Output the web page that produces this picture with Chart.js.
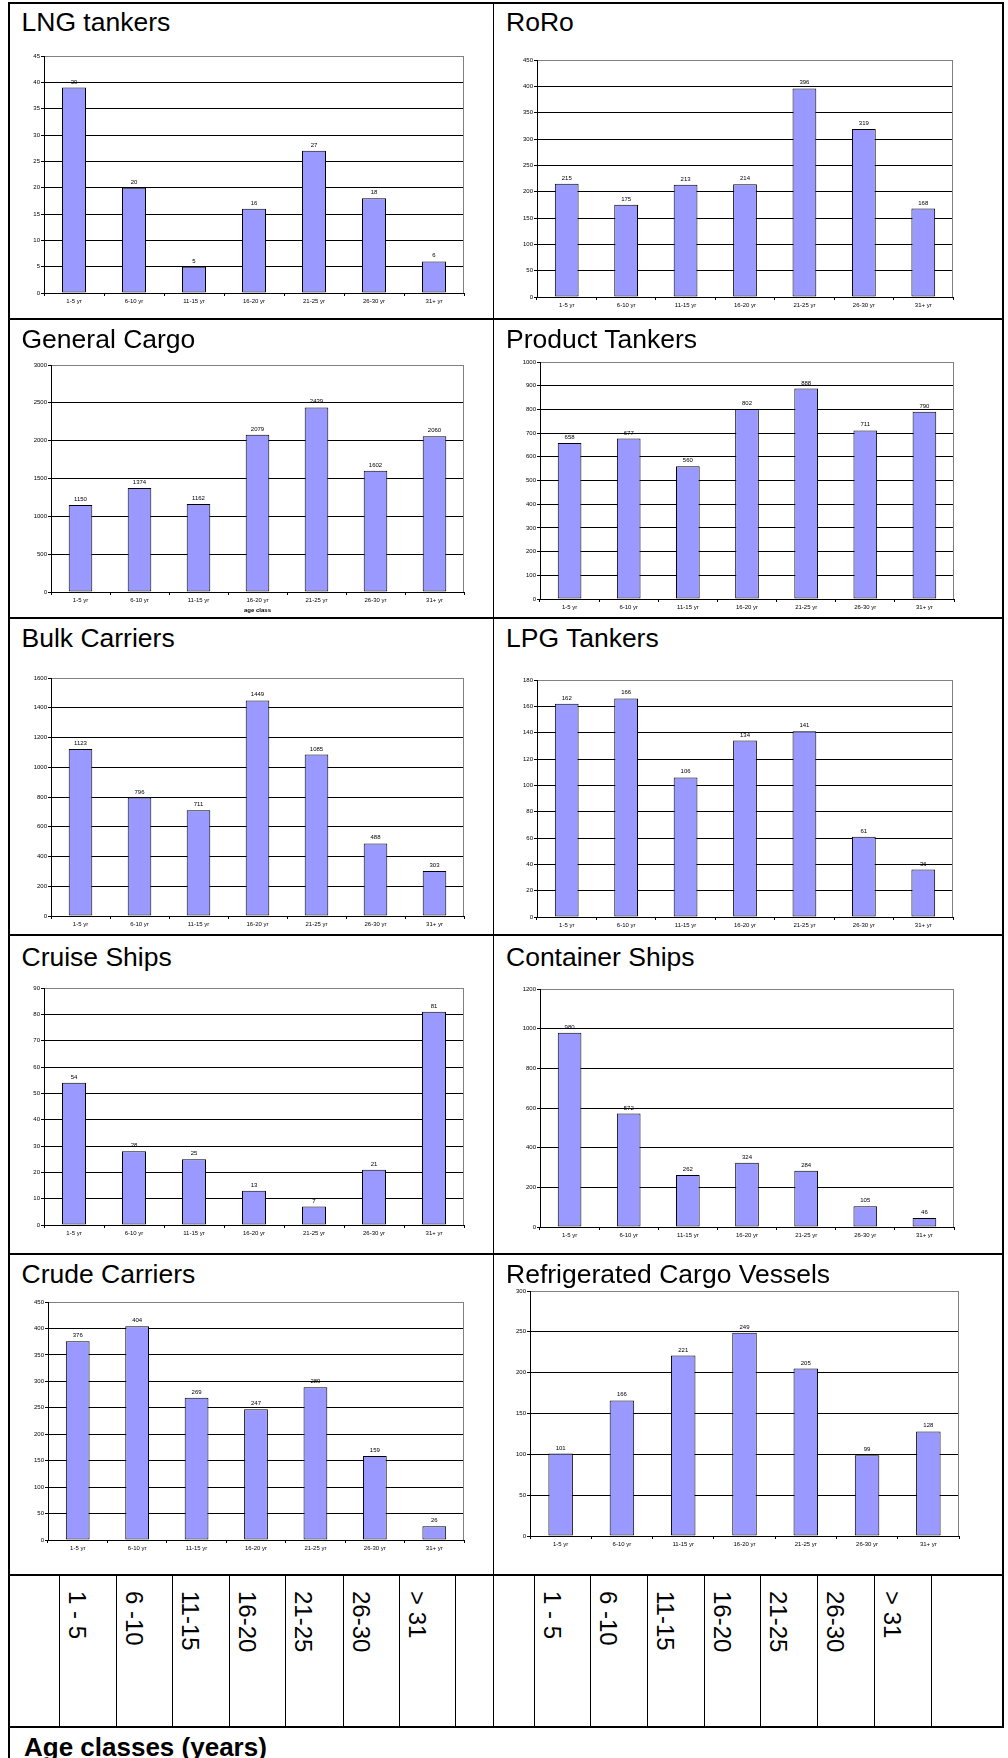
<!DOCTYPE html>
<html>
<head>
<meta charset="utf-8">
<title>Fleet age profile by ship type</title>
<script src="https://cdn.jsdelivr.net/npm/chart.js@4.4.1/dist/chart.umd.min.js"></script>
<style>
  html, body { margin: 0; padding: 0; background: #fff; }
  body {
    width: 1008px; height: 1758px; position: relative; overflow: hidden;
    font-family: "Liberation Sans", Arial, Helvetica, sans-serif; color: #000;
  }
  canvas.panel { position: absolute; }
  .rule { position: absolute; background: #000; }
  .title { position: absolute; font-size: 26.5px; line-height: 1; white-space: nowrap; }
  .band {
    position: absolute; font-size: 24px; line-height: 1; white-space: nowrap;
    transform: rotate(90deg); transform-origin: 0 0;
  }
  .footer { position: absolute; font-size: 26px; font-weight: bold; line-height: 1; white-space: nowrap; }
</style>
</head>
<body>
<script>
// ---- data -------------------------------------------------------------
const ageClasses = ['1-5 yr', '6-10 yr', '11-15 yr', '16-20 yr', '21-25 yr', '26-30 yr', '31+ yr'];
const ageBands = ['1 - 5', '6 -10', '11-15', '16-20', '21-25', '26-30', '> 31'];

const lngTankers     = [39, 20, 5, 16, 27, 18, 6];
const roRo           = [215, 175, 213, 214, 396, 319, 168];
const generalCargo   = [1150, 1374, 1162, 2079, 2439, 1602, 2060];
const productTankers = [658, 677, 560, 802, 888, 711, 790];
const bulkCarriers   = [1123, 796, 711, 1449, 1085, 488, 303];
const lpgTankers     = [162, 166, 106, 134, 141, 61, 36];
const cruiseShips    = [54, 28, 25, 13, 7, 21, 81];
const containerShips = [980, 572, 262, 324, 284, 105, 46];
const crudeCarriers  = [376, 404, 269, 247, 289, 159, 26];
const reeferVessels  = [101, 166, 221, 249, 205, 99, 128];

const fleetNames = ['LNG tankers', 'RoRo', 'General Cargo', 'Product Tankers', 'Bulk Carriers',
                    'LPG Tankers', 'Cruise Ships', 'Container Ships', 'Crude Carriers',
                    'Refrigerated Cargo Vessels'];
const axisMax  = [45, 450, 3000, 1000, 1600, 180, 90, 1200, 450, 300];
const axisStep = [5, 50, 500, 100, 200, 20, 10, 200, 50, 50];
const xAxisTitle = 'age class';
const footerText = 'Age classes (years)';

const fleetSeries = [lngTankers, roRo, generalCargo, productTankers, bulkCarriers,
                     lpgTankers, cruiseShips, containerShips, crudeCarriers, reeferVessels];

// ---- page layout (pixels) ------------------------------------------------
const plotBoxes = [
  { left: 44,  right: 464, top: 56,   bottom: 293 },
  { left: 537, right: 953, top: 60,   bottom: 297 },
  { left: 51,  right: 464, top: 365,  bottom: 592 },
  { left: 540, right: 954, top: 362,  bottom: 599 },
  { left: 51,  right: 464, top: 678,  bottom: 916 },
  { left: 537, right: 953, top: 680,  bottom: 917 },
  { left: 44,  right: 464, top: 988,  bottom: 1225 },
  { left: 540, right: 954, top: 989,  bottom: 1227 },
  { left: 48,  right: 464, top: 1302, bottom: 1540 },
  { left: 530, right: 959, top: 1291, bottom: 1536 }
];
const titleBaselines = [31, 348, 647.5, 966.5, 1283];
const titleLeft = [21.5, 506];
const columnSpan = [[10, 492], [496, 1001]];
const rowLines = [319, 618, 935, 1254, 1575, 1727];
const bandColumns = [[59, 116, 172, 229, 285, 343, 399, 455], [534, 590, 647, 704, 760, 817, 874, 931]];

const FONT = '"Liberation Sans", Arial, Helvetica, sans-serif';

function rule(x, y, w, h) {
  const d = document.createElement('div');
  d.className = 'rule';
  d.style.left = x + 'px'; d.style.top = y + 'px';
  d.style.width = w + 'px'; d.style.height = h + 'px';
  document.body.appendChild(d);
}

// Grey frame on the right edge of each plot area
const plotFrame = {
  id: 'plotFrame',
  beforeDatasetsDraw(chart) {
    const { ctx, chartArea: a } = chart;
    ctx.save();
    ctx.strokeStyle = '#808080';
    ctx.lineWidth = 1;
    const x = Math.round(a.right) - 0.5;
    ctx.beginPath();
    ctx.moveTo(x, a.top);
    ctx.lineTo(x, a.bottom);
    ctx.stroke();
    ctx.restore();
  }
};

// Value printed above every bar
const valueLabels = {
  id: 'valueLabels',
  afterDatasetsDraw(chart) {
    const { ctx } = chart;
    const meta = chart.getDatasetMeta(0);
    const values = chart.data.datasets[0].data;
    ctx.save();
    ctx.font = '6px ' + FONT;
    ctx.fillStyle = '#000';
    ctx.textAlign = 'center';
    ctx.textBaseline = 'alphabetic';
    meta.data.forEach((bar, i) => ctx.fillText(String(values[i]), bar.x, bar.y - 4));
    ctx.restore();
  }
};

// ---- charts -------------------------------------------------------------
fleetSeries.forEach((series, i) => {
  const box = plotBoxes[i];
  const col = i % 2;
  const [cx0, cx1] = columnSpan[col];
  const cy0 = box.top - 12;
  const cy1 = box.bottom + (i === 2 ? 22 : 18);

  const canvas = document.createElement('canvas');
  canvas.className = 'panel';
  canvas.width = cx1 - cx0;
  canvas.height = cy1 - cy0;
  canvas.style.left = cx0 + 'px';
  canvas.style.top = cy0 + 'px';
  document.body.appendChild(canvas);

  const ymax = axisMax[i];
  new Chart(canvas, {
    type: 'bar',
    data: {
      labels: ageClasses,
      datasets: [{
        data: series,
        backgroundColor: '#9999FF',
        borderColor: '#000',
        borderWidth: 1,
        borderSkipped: false,
        barPercentage: 0.4,
        categoryPercentage: 1
      }]
    },
    options: {
      responsive: false,
      animation: false,
      devicePixelRatio: 1,
      layout: { padding: { top: box.top - cy0, right: cx1 - box.right, bottom: 0, left: 0 } },
      plugins: { legend: { display: false }, tooltip: { enabled: false }, title: { display: false } },
      scales: {
        x: {
          grid: { offset: true, drawOnChartArea: false, drawTicks: true, tickLength: 3, color: '#000', lineWidth: 1 },
          border: { display: true, color: '#000', width: 1 },
          ticks: { font: { family: FONT, size: 6 }, color: '#000', padding: 2, maxRotation: 0, autoSkip: false },
          title: i === 2
            ? { display: true, text: xAxisTitle, font: { family: FONT, size: 6, weight: 'bold' }, color: '#000', padding: 0 }
            : { display: false },
          afterFit(s) { s.height = cy1 - box.bottom; }
        },
        y: {
          min: 0,
          max: ymax,
          ticks: {
            stepSize: axisStep[i],
            callback: v => String(v),
            font: { family: FONT, size: 6 },
            color: '#000',
            padding: 1,
            autoSkip: false
          },
          grid: {
            color: c => (c.tick && c.tick.value === ymax ? '#808080' : '#000'),
            tickColor: '#000',
            tickLength: 3,
            lineWidth: 1
          },
          border: { display: true, color: '#000', width: 1 },
          afterFit(s) { s.width = box.left - cx0; }
        }
      }
    },
    plugins: [plotFrame, valueLabels]
  });

  const t = document.createElement('div');
  t.className = 'title';
  t.textContent = fleetNames[i];
  t.style.left = titleLeft[col] + 'px';
  t.style.top = (titleBaselines[Math.floor(i / 2)] - 26.5 * 0.8465) + 'px';
  document.body.appendChild(t);
});

// ---- table rules ----------------------------------------------------------
rule(8, 2, 996, 2);          // top edge
rule(8, 2, 2, 1756);         // left edge
rule(1002, 2, 2, 1726);      // right edge
rule(493, 2, 1, 1725);       // centre divider
rowLines.forEach(y => rule(8, y - 1, 996, 2));
bandColumns.forEach(xs => xs.forEach(x => rule(x, 1575, 1, 152)));

// ---- age band captions ------------------------------------------------------
bandColumns.forEach(xs => {
  ageBands.forEach((label, k) => {
    const s = document.createElement('div');
    s.className = 'band';
    s.textContent = label;
    s.style.left = (xs[k] + 30.3) + 'px';
    s.style.top = '1591px';
    document.body.appendChild(s);
  });
});

const f = document.createElement('div');
f.className = 'footer';
f.textContent = footerText;
f.style.left = '24px';
f.style.top = (1756 - 26 * 0.8465) + 'px';
document.body.appendChild(f);
</script>
</body>
</html>
